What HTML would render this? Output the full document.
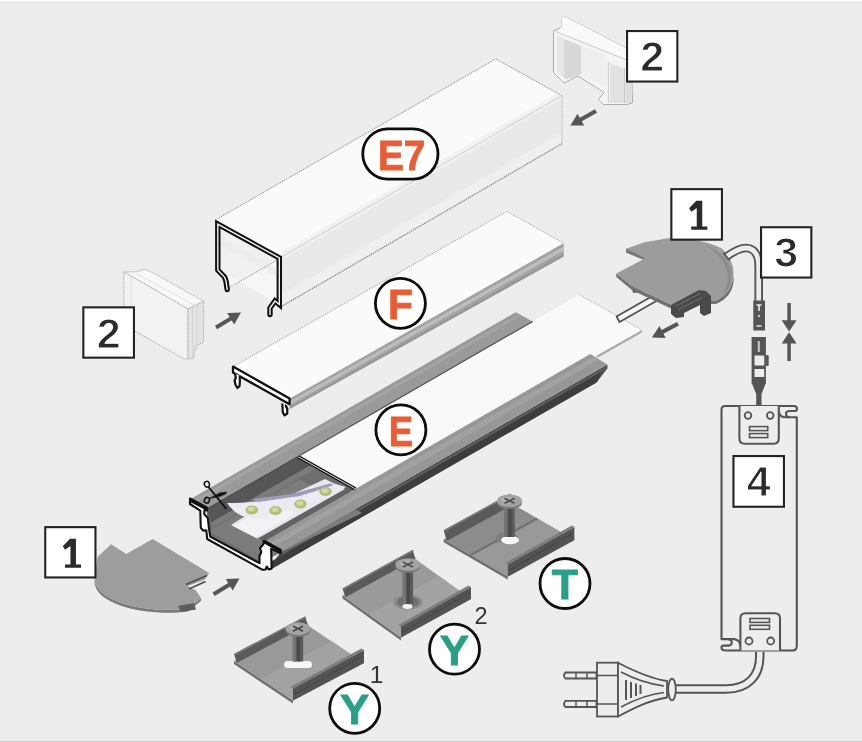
<!DOCTYPE html>
<html><head><meta charset="utf-8"><style>
html,body{margin:0;padding:0;background:#ededed;}
svg{display:block;will-change:transform;}
text{font-family:"Liberation Sans",sans-serif;}
</style></head><body>
<svg width="862" height="742" viewBox="0 0 862 742">
<rect width="862" height="742" fill="#ededed"/>
<rect x="0" y="0" width="862" height="1" fill="#fdfdfd"/>
<rect x="0" y="1" width="862" height="1" fill="#f2f2f2"/>
<rect x="0" y="2" width="862" height="1" fill="#e9e9e9"/>
<rect x="0" y="740" width="862" height="1" fill="#f1f1f1"/>
<rect x="0" y="741" width="862" height="1" fill="#c8c8c8"/>
<polygon points="215.2,220.1 495.7,58.9 562.0,95.7 281.5,256.9" fill="#fafafa"/>
<polygon points="281.5,256.9 562.0,95.7 562.0,143.7 281.5,306.4" fill="#e9e9e9"/>
<polygon points="281.5,251.9 562.0,90.7 562.0,98.7 281.5,259.9" fill="#f1f1f1"/>
<polygon points="281.5,294.4 562.0,132.2 562.0,143.2 281.5,305.9" fill="#efefef"/>
<line x1="215.2" y1="220.1" x2="495.7" y2="58.9" stroke="#8c8c8c" stroke-width="1.0" stroke-dasharray="1.3 0.9"/>
<line x1="495.7" y1="58.9" x2="562.0" y2="95.7" stroke="#8c8c8c" stroke-width="1.0" stroke-dasharray="1.3 0.9"/>
<line x1="562.0" y1="95.7" x2="562.0" y2="143.7" stroke="#b0b0b0" stroke-width="1.0" stroke-dasharray="1.3 0.9"/>
<line x1="281.5" y1="306.4" x2="562.0" y2="143.7" stroke="#7e7e7e" stroke-width="1.2" stroke-dasharray="1.3 0.9"/>
<line x1="281.5" y1="256.9" x2="562.0" y2="95.69999999999999" stroke="#d6d6d6" stroke-width="1.2"/>
<polygon points="218.0,223.0 279.0,257.0 279.0,303.0 271.0,300.0 228.0,276.0 218.0,268.0" fill="#f0f0f0"/>
<polygon points="218,268 228,276 227,289 276.5,260.5 276.5,300 271,300" fill="#f6f6f6"/>
<polygon points="218,236 276,268 276,276 218,244" fill="#e9e9e9" opacity="0.6"/>
<line x1="227.5" y1="288.5" x2="277.0" y2="260.2" stroke="#9a9a9a" stroke-width="1.0" stroke-dasharray="1.3 0.9"/>
<path d="M227.2,289.5 L226,281 L224.5,277 L217.8,270 L217.8,224.1 L279.3,257.9 L279.3,304.5 L275,301 L270,308 L270,314.5" fill="none" stroke="#111" stroke-width="5.4" stroke-linejoin="miter" stroke-linecap="round"/>
<path d="M227.2,289.5 L226,281 L224.5,277 L217.8,270 L217.8,224.1 L279.3,257.9 L279.3,304.5 L275,301 L270,308 L270,314.5" fill="none" stroke="#fff" stroke-width="1.3" stroke-linejoin="miter" stroke-linecap="round"/>
<polygon points="289.6,398.4 563.6,243.1 563.6,256.6 289.6,408.9" fill="#a3a3a3"/>
<polygon points="289.6,401.4 563.6,246.6 563.6,250.6 289.6,404.9" fill="#bdbdbb"/>
<polygon points="289.6,406.9 563.6,254.1 563.6,256.6 289.6,408.9" fill="#969696"/>
<polygon points="233.0,366.6 507.0,211.3 563.6,243.1 289.6,398.4" fill="#fafafa"/>
<line x1="233.0" y1="366.6" x2="507.0" y2="211.3" stroke="#a8a8a8" stroke-width="1.0" stroke-dasharray="1.3 0.9"/>
<line x1="507.0" y1="211.3" x2="563.6" y2="243.1" stroke="#a8a8a8" stroke-width="1.0" stroke-dasharray="1.3 0.9"/>
<path d="M233.0,366.6 L289.6,398.4 L289.6,404.2 L233.0,372.40000000000003 Z" fill="#fff" stroke="#111" stroke-width="2.3" stroke-linejoin="round"/>
<path d="M235,373.6 L235.8,377.5 L234.6,380.5 L235.4,384.5 L237.4,388 L239.5,386.2 L239.9,381.5 L239.7,375.8" fill="#fff" stroke="#111" stroke-width="2.2" stroke-linejoin="round"/>
<path d="M282.4,403.4 L282.4,406 L282.8,412.5 L284.6,415.3 L287.2,413.5 L287.3,409 L285.8,405.5 L286.2,405" fill="#fff" stroke="#111" stroke-width="2.2" stroke-linejoin="round"/>
<polygon points="281.3,551.7 607.3,364.4 607.3,368.4 596.5,382.5 270.5,569.5 270.0,566.0" fill="#4b4b4b"/>
<polygon points="281.3,553.2 607.3,365.9 607.3,368.4 281.3,555.7" fill="#5e5e5e"/>
<polygon points="272.0,561.0 600.0,372.5 600.0,376.0 596.5,382.5 270.5,569.5" fill="#3d3d3d"/>
<polygon points="206.7,508.7 532.7,321.4 590.3,354.1 264.3,541.4 262.0,567.5 208.5,538.4" fill="#6e6e6e"/>
<polygon points="206.7,508.7 532.7,321.4 536.7,335.4 210.7,522.7" fill="#565656"/>
<polygon points="210.7,522.7 536.7,335.4 538.7,340.4 212.7,527.7" fill="#7b7b7b"/>
<polygon points="209.0,531.0 300.0,479.0 362.0,513.0 262.0,562.0" fill="#7c7c7c"/>
<polygon points="264.3,541.4 590.3,354.1 584.3,350.1 258.3,537.4" fill="#636363"/>
<polygon points="231,525 257,538.5 263,535.5 345,489 325,479 242,518" fill="#e9e8ee"/>
<polygon points="233,526 255,537 296,513 274,503" fill="#f2f2f4"/>
<path d="M227,503 C245,503 268,501 292,496 L332,483 L346,487 C330,496 300,508 262,518 C248,520 236,516 227,503 Z" fill="#ecebf1"/>
<path d="M252,499 L292,494 L330,483.5 L334,485 L300,496 L258,502 Z" fill="#9f9bb8"/>
<ellipse cx="251.8" cy="510" rx="6.3" ry="4.5" fill="#b1bf78"/>
<ellipse cx="251.3" cy="509.2" rx="3.6" ry="2.4" fill="#d0d9a2"/>
<ellipse cx="275.5" cy="510.5" rx="6.3" ry="4.5" fill="#b1bf78"/>
<ellipse cx="275.0" cy="509.7" rx="3.6" ry="2.4" fill="#d0d9a2"/>
<ellipse cx="300.4" cy="504" rx="6.3" ry="4.5" fill="#b1bf78"/>
<ellipse cx="299.9" cy="503.2" rx="3.6" ry="2.4" fill="#d0d9a2"/>
<ellipse cx="325.5" cy="491.5" rx="6.3" ry="4.5" fill="#b1bf78"/>
<ellipse cx="325.0" cy="490.7" rx="3.6" ry="2.4" fill="#d0d9a2"/>
<polygon points="297.9,456.4 579.2,294.6 642.0,330.0 597.0,355.5 355.5,489.0" fill="#f9f9f9"/>
<polygon points="642,330 642,332.5 598,357.5 596,356" fill="#a9a9a9"/>
<line x1="579.2" y1="294.6" x2="642.0" y2="330.0" stroke="#b4b4b4" stroke-width="1.0" stroke-dasharray="1.3 0.9"/>
<path d="M297.9,456.6 L355.5,489" stroke="#111" stroke-width="3.4"/>
<path d="M297.9,456.6 L355.5,489" stroke="#fff" stroke-width="0.9"/>
<polygon points="189.7,499.6 515.7,312.3 532.7,321.4 206.7,508.7" fill="#9a9a9a"/>
<polygon points="192.7,501.1 518.7,313.8 521.7,315.5 195.7,502.8" fill="#a4a4a4"/>
<line x1="207.2" y1="508.7" x2="532.7" y2="321.4" stroke="#4a4a4a" stroke-width="1.1"/>
<polygon points="264.3,541.4 590.3,354.1 607.3,364.4 281.3,551.7" fill="#979797"/>
<polygon points="268.3,543.9 594.3,356.6 599.3,359.6 273.3,546.9" fill="#a2a2a2"/>
<polygon points="190.0,498.5 207.0,507.6 207.2,510.5 204.5,510.0 204.2,514.0 207.8,518.0 208.8,527.0 210.2,536.6 259.5,563.2 259.5,556.0 261.3,552.0 260.0,548.0 262.8,545.0 263.8,543.0 263.5,541.0 281.0,550.8 280.6,553.4 271.2,548.6 271.6,568.5 268.8,569.5 266.8,566.5 265.6,569.5 262.6,569.8 207.2,539.0 206.3,530.2 203.2,530.6 200.8,527.8 200.6,522.5 200.3,510.6 190.0,504.0" fill="#fff" stroke="#111" stroke-width="2.1" stroke-linejoin="round"/>
<path d="M191,500.3 L206.2,508.4 M265,542 L280,550.4" stroke="#111" stroke-width="3.6" stroke-linecap="round"/>
<g stroke="#111" fill="none"><ellipse cx="206.9" cy="484.2" rx="2.5" ry="2.9" stroke-width="1.5" transform="rotate(-25 206.9 484.2)"/><ellipse cx="206.9" cy="500.3" rx="2.5" ry="2.9" stroke-width="1.5" transform="rotate(25 206.9 500.3)"/><path d="M208.8,487.4 L226,508.4" stroke-width="1.7" stroke-linecap="round"/></g>
<path d="M209.3,498.5 L215,495.6 L219.5,493 L226.8,492 L225.5,494 L219.5,496.6 L213,497.8 Z" fill="#111" stroke="#111" stroke-width="0.6" stroke-linejoin="round"/>
<polygon points="563.9,16.1 628.0,49.0 628.0,83.0 632.0,83.0 632.5,103.0 627.0,104.5 603.0,104.5 598.5,99.5 604.0,92.5 578.0,76.0 564.0,83.0 553.4,72.5 553.4,31.0 561.5,27.5 561.5,18.5" fill="#f4f4f4" stroke="#adadad" stroke-width="1" stroke-linejoin="round"/>
<polygon points="563.9,16.1 628.0,49.0 628.0,60.0 556.0,31.5 561.5,27.5 561.5,18.5" fill="#f9f9f9"/>
<path d="M556,31.5 L628,60.5" stroke="#c9c9c9" stroke-width="1"/>
<polygon points="557,36 581,46 581,74 566,79.5 557,71" fill="#d8d8d8"/>
<polygon points="557,36 564,39 564,77 557,71" fill="#e6e6e6"/>
<polygon points="581,46 606,56 606,87 581,75" fill="#efefef"/>
<path d="M608.3,62 L608.3,103 M624.5,68 L624.5,103" stroke="#c6c6c6" stroke-width="1"/>
<polygon points="610,63 624,69 624,103 610,103" fill="#e2e2e2"/>
<polygon points="625.5,83 631.5,83 631.5,103 625.5,103" fill="#dcdcdc"/>
<polygon points="123.9,271.9 136.8,271.9 145.2,269.2 152.5,272.6 203.6,301.2 188.0,309.0" fill="#f8f8f8" stroke="#a9a9a9" stroke-width="0.9" stroke-dasharray="1.4 0.7" stroke-linejoin="round"/>
<polygon points="123.9,271.9 188.0,309.0 188.0,358.8 183.8,358.8 134.7,331.0 123.9,330.4" fill="#f2f2f2" stroke="#a9a9a9" stroke-width="0.9" stroke-dasharray="1.4 0.7"/>
<polygon points="188.0,309.0 203.6,301.2 203.6,341.9 195.3,346.5 193.5,358.8 188.0,358.8" fill="#e4e4e4" stroke="#a9a9a9" stroke-width="0.9" stroke-dasharray="1.4 0.7"/>
<path d="M192.5,307 L192.5,356 M197,304.5 L197,350" stroke="#cfcfcf" stroke-width="0.8"/>
<path d="M131,276.5 L131,332 M137,274 L196,306" stroke="#dedede" stroke-width="0.9"/>
<path d="M616.5,316.5 L656,294 L659,299.5 L619.5,322 Z" fill="#f5f5f5" stroke="#505050" stroke-width="1.7" stroke-linejoin="round"/>
<polygon points="631,283 640,281 641,292 633,293" fill="#5a5a5a"/>
<path d="M616.3,273.4 L632.6,286.7 L671,304.5 L700,300 L716,300.5 C726,296 732.5,287 733.4,276 L733.6,281 C732.8,292 726,300 716,304 L700,303.8 L671,308.5 L632.6,290.5 L616.3,277 Z" fill="#707070"/>
<path d="M626,248.8 L644.5,242.2 L671,237.8 C690,237.5 708,242 721.5,248.2 C730,256 734.5,266 733.4,276 C732.5,287 726,296 716,300.5 L700,300 L671,304.5 L632.6,286.7 L616.3,273.4 L643,259.4 L626,252.5 Z" fill="#9c9c9c"/>
<path d="M705,244.5 C716,249 727,258 731,269 C733,279 730,289 722,296 C727,287 729,279 727,270 C723,259 715,251 705,244.5 Z" fill="#8c8c8c"/>
<path d="M626,248.8 L626,252.5 L643,259.4 L644.5,258 Z" fill="#777"/>
<polygon points="671,305 699,290 706,291 711,296 711,313 704,316 700,313 700,305 684,313 684,317 676,318 671,314" fill="#4a4a4a"/>
<path d="M676,306 L700,293.5 M678,310 L702,297.5" stroke="#6a6a6a" stroke-width="1.3"/>
<path d="M726.3,256.7 C733,252 740,248 746,248 C754,248 758.7,255 758.7,266 L758.7,301" fill="none" stroke="#555" stroke-width="8.6"/>
<path d="M726.3,256.7 C733,252 740,248 746,248 C754,248 758.7,255 758.7,266 L758.7,301" fill="none" stroke="#ececec" stroke-width="4.8"/>
<path d="M723.8,253.4 L729,259.8" stroke="#555" stroke-width="1.9" stroke-linecap="round"/>
<rect x="753.3" y="300.5" width="11.7" height="30" fill="#555"/>
<path d="M756.5,305 L761.5,305 M759,305 L759,311 M759,315 L759,317 M756.5,326 L761.5,326" stroke="#eee" stroke-width="1.6"/>
<rect x="751.6" y="337" width="14.3" height="47" fill="#555"/>
<rect x="757.8" y="341" width="2" height="11" fill="#ccc"/>
<rect x="754.5" y="355.5" width="9.7" height="10" fill="#eee"/>
<rect x="754.5" y="369" width="9.7" height="8" fill="#eee"/>
<rect x="765.9" y="355" width="2.8" height="11" rx="1.2" fill="#555"/>
<polygon points="752,383.8 765.5,383.8 761.5,394 761.5,407 756.2,407 756.2,394" fill="#555"/>
<g fill="#555"><rect x="787.3" y="303" width="3.5" height="18"/><polygon points="781.7,320.2 796.6,320.2 789.1,331.5"/><polygon points="781.7,343.5 796.6,343.5 789.1,332.2"/><rect x="787.3" y="343" width="3.5" height="18"/></g>
<path d="M725,406 L794,406 Q797,406 797,408.7 Q797,411 794.5,411 L788.8,411 Q786,411.3 786,414 Q786,417.2 789.5,417.2 L796.8,417.2 L796.8,646 Q796.8,650.5 792.3,650.5 L725.5,650.5 Q721.5,650.5 721.5,647.5 Q721.5,645.6 723.5,645.6 L729,645.6 Q731.8,645 731.8,642.5 Q731.5,639.1 728,639.1 L721.5,639.1 L721.5,410 Q721.5,406 725,406 Z" fill="#ededed" stroke="#555" stroke-width="2.1" stroke-linejoin="round"/>
<path d="M789.5,417.2 L784,417.2 Q779,416.5 779,411 M728,639.1 L734.5,639.1 Q740,640 740.4,646" fill="none" stroke="#555" stroke-width="2.1"/>
<path d="M739.4,406 L739.4,438.5 Q739.4,443.7 744.6,443.7 L773.6,443.7 Q778.8,443.7 778.8,438.5 L778.8,406" fill="#ededed" stroke="#555" stroke-width="2.1"/>
<circle cx="748" cy="415.5" r="3.3" fill="none" stroke="#555" stroke-width="1.8"/><circle cx="770.2" cy="415.5" r="3.3" fill="none" stroke="#555" stroke-width="1.8"/>
<rect x="749.5" y="426.6" width="18.2" height="4" fill="none" stroke="#555" stroke-width="1.6"/><rect x="749.5" y="433.6" width="18.2" height="4" fill="none" stroke="#555" stroke-width="1.6"/>
<path d="M740.4,650.5 L740.4,618.5 Q740.4,613.3 745.6,613.3 L774.8,613.3 Q780,613.3 780,618.5 L780,650.5" fill="#ededed" stroke="#555" stroke-width="2.1"/>
<rect x="750" y="618.5" width="19.5" height="3.9" fill="none" stroke="#555" stroke-width="1.6"/><rect x="750" y="625.3" width="19.5" height="4" fill="none" stroke="#555" stroke-width="1.6"/>
<circle cx="749" cy="641" r="3.5" fill="none" stroke="#555" stroke-width="1.8"/><circle cx="770.7" cy="641" r="3.5" fill="none" stroke="#555" stroke-width="1.8"/>
<path d="M759.8,652 L759.8,656 C759.8,676 748,689 726,689 L672,689" fill="none" stroke="#555" stroke-width="9.5"/>
<path d="M759.8,652 L759.8,656 C759.8,676 748,689 726,689 L672,689" fill="none" stroke="#ededed" stroke-width="5.5"/>
<g fill="#ededed" stroke="#555" stroke-width="1.8">
<path d="M565.5,672.5 L596.5,672.5 L596.5,678.5 L565.5,678.5 Q562.5,675.5 565.5,672.5 Z"/>
<path d="M565.5,700.8 L596.5,700.8 L596.5,707 L565.5,707 Q562.5,704 565.5,700.8 Z"/>
<rect x="597" y="662.7" width="21" height="53.8"/>
<path d="M618,662.7 C632,670 648,678 667,681 L667,697.5 C648,700.5 632,709 618,716.5 Z"/>
<ellipse cx="672" cy="689.5" rx="3.8" ry="10.8"/>
</g>
<path d="M597,675.5 L618,675.5 M597,704 L618,704" stroke="#555" stroke-width="1.5"/>
<path d="M621,672 C636,680 650,684 664,686 M621,707 C636,699 650,694 664,692.5" fill="none" stroke="#555" stroke-width="1.5"/>
<path d="M626,680 L626,700 M631,682 L631,698 M636,683.5 L636,696 M640.5,685 L640.5,694" stroke="#555" stroke-width="2"/>
<path d="M576,672.5 L576,678.5 M587,672.5 L587,678.5 M576,700.8 L576,707 M587,700.8 L587,707" stroke="#555" stroke-width="1.5"/>
<path d="M94.5,579.8 C96,590 105,597 120.2,602.4 C140,610 170,611 188,608.4 L201,597.9 L201,601 L188,611.5 C170,614 140,613 120.2,605.5 C105,600 96,593 94.5,583 Z" fill="#7c7c7c"/>
<path d="M111.1,544.3 L126.2,554.1 L152.6,539 L209.2,573 L204.6,579.8 L188,586 L196,590.5 L201,597.9 L188,608.4 C170,611 140,610 120.2,602.4 C105,597 96,590 94.5,579.8 L97.5,557.1 Z" fill="#9d9d9d"/>
<path d="M186,584.5 L207,575.5 M189,589 L205.5,581.5" stroke="#4e4e4e" stroke-width="1.8"/>
<polygon points="178,606 194,603 196,609.5 181,612" fill="#5e5e5e"/>
<line x1="596" y1="111" x2="579.9713129836822" y2="120.0787485053362" stroke="#565656" stroke-width="4.0"/><polygon points="570.4,125.5 577.5,113.7 584.2,125.5" fill="#565656"/>
<line x1="216" y1="327.5" x2="231.567577817162" y2="318.1594533097028" stroke="#565656" stroke-width="4.0"/><polygon points="241.0,312.5 234.2,324.5 227.2,312.9" fill="#565656"/>
<line x1="678" y1="323.7" x2="661.6243845633958" y2="332.3583713802735" stroke="#565656" stroke-width="4.0"/><polygon points="651.9,337.5 659.4,325.9 665.7,337.9" fill="#565656"/>
<line x1="213.6" y1="594.2" x2="230.07722183942275" y2="584.275495726062" stroke="#565656" stroke-width="4.0"/><polygon points="239.5,578.6 232.7,590.6 225.7,579.0" fill="#565656"/>
<polygon points="443.7,539.2 507.8,576.5 507.8,579.5 443.7,542.2" fill="#6e6e6e"/><polygon points="443.7,539.2 507.8,576.5 574.4,540.0 510.3,502.7" fill="#8c8c8c"/><polygon points="472.5,556.0 507.8,576.5 574.4,540.0 539.1,519.5" fill="#999999"/><line x1="470.6" y1="554.9" x2="537.2" y2="518.4" stroke="#6a6a6a" stroke-width="1.6"/><polygon points="443.7,530.2 510.3,493.7 513.3,504.4 446.7,540.9" fill="#5a5a5a"/><polygon points="443.7,530.2 510.3,493.7 511.8,494.7 445.2,531.2" fill="#7a7a7a"/><polygon points="507.8,576.5 574.4,540.0 574.4,527.0 507.8,564.5" fill="#535353"/><polygon points="507.8,564.5 574.4,527.0 571.9,525.5 505.3,563.0" fill="#7c7c7c"/><line x1="509.8" y1="570.0" x2="572.4" y2="533.5" stroke="#3f3f3f" stroke-width="1.2" stroke-dasharray="1.5 1"/><ellipse cx="507" cy="538" rx="11" ry="5.5" fill="#7e7e7e"/><ellipse cx="510" cy="540" rx="9" ry="4.3" fill="#f6f6f6"/><rect x="504.3" y="502.8" width="10.4" height="34.19999999999999" fill="#5a5a5a"/><rect x="504.3" y="502.8" width="3" height="34.19999999999999" fill="#777"/><rect x="508.5" y="502.8" width="3" height="34.19999999999999" fill="#4a4a4a"/><ellipse cx="509.5" cy="502.8" rx="12.5" ry="6.3" fill="#7a7a7a"/><ellipse cx="509.5" cy="500.8" rx="12.5" ry="6.3" fill="#a3a3a3"/><ellipse cx="507.5" cy="499.8" rx="6" ry="3" fill="#b3b3b3"/><path d="M504.5,498.3 L514.5,503.3 M514.5,498.3 L504.5,503.3" stroke="#4d4d4d" stroke-width="1.8"/>
<polygon points="342.5,595.5 401.0,637.5 401.0,640.5 342.5,598.5" fill="#6e6e6e"/><polygon points="342.5,595.5 401.0,637.5 471.0,599.0 412.5,557.0" fill="#9a9a9a"/><polygon points="368.8,614.4 401.0,637.5 471.0,599.0 438.8,575.9" fill="#a3a3a3"/><polygon points="342.5,588.5 412.5,550.0 415.5,558.7 345.5,597.2" fill="#5a5a5a"/><polygon points="342.5,588.5 412.5,550.0 414.0,551.0 344.0,589.5" fill="#7a7a7a"/><polygon points="401.0,637.5 471.0,599.0 471.0,587.0 401.0,626.5" fill="#535353"/><polygon points="401.0,626.5 471.0,587.0 468.5,585.5 398.5,625.0" fill="#7c7c7c"/><line x1="403.0" y1="631.5" x2="469.0" y2="593.0" stroke="#3f3f3f" stroke-width="1.2" stroke-dasharray="1.5 1"/><ellipse cx="407.9" cy="602" rx="14.5" ry="7.5" fill="#8a8a8a"/><ellipse cx="407.9" cy="602" rx="11" ry="5.5" fill="#707070"/><ellipse cx="407.4" cy="606.5" rx="5" ry="2.4" fill="#f4f4f4"/><rect x="402.7" y="566.5" width="10.4" height="37.5" fill="#5a5a5a"/><rect x="402.7" y="566.5" width="3" height="37.5" fill="#777"/><rect x="406.9" y="566.5" width="3" height="37.5" fill="#4a4a4a"/><ellipse cx="407.9" cy="566.5" rx="12.5" ry="6.3" fill="#7a7a7a"/><ellipse cx="407.9" cy="564.5" rx="12.5" ry="6.3" fill="#a3a3a3"/><ellipse cx="405.9" cy="563.5" rx="6" ry="3" fill="#b3b3b3"/><path d="M402.9,562.0 L412.9,567.0 M412.9,562.0 L402.9,567.0" stroke="#4d4d4d" stroke-width="1.8"/>
<polygon points="234.0,661.0 293.0,700.6 293.0,703.6 234.0,664.0" fill="#6e6e6e"/><polygon points="234.0,661.0 293.0,700.6 364.0,663.0 305.0,623.4" fill="#999999"/><polygon points="260.6,678.8 293.0,700.6 364.0,663.0 331.6,641.2" fill="#a2a2a2"/><polygon points="234.0,654.0 305.0,616.4 308.0,625.1 237.0,662.7" fill="#5a5a5a"/><polygon points="234.0,654.0 305.0,616.4 306.5,617.4 235.5,655.0" fill="#7a7a7a"/><polygon points="293.0,700.6 364.0,663.0 364.0,650.0 293.0,688.6" fill="#535353"/><polygon points="293.0,688.6 364.0,650.0 361.5,648.5 290.5,687.1" fill="#7c7c7c"/><line x1="295.0" y1="694.1" x2="362.0" y2="656.5" stroke="#3f3f3f" stroke-width="1.2" stroke-dasharray="1.5 1"/><rect x="284" y="661.0" width="28" height="7" rx="3.5" fill="#f6f6f6"/><rect x="292.8" y="630.6" width="10.4" height="30.899999999999977" fill="#5a5a5a"/><rect x="292.8" y="630.6" width="3" height="30.899999999999977" fill="#777"/><rect x="297" y="630.6" width="3" height="30.899999999999977" fill="#4a4a4a"/><ellipse cx="298" cy="630.6" rx="12.5" ry="6.3" fill="#7a7a7a"/><ellipse cx="298" cy="628.6" rx="12.5" ry="6.3" fill="#a3a3a3"/><ellipse cx="296" cy="627.6" rx="6" ry="3" fill="#b3b3b3"/><path d="M293,626.1 L303,631.1 M303,626.1 L293,631.1" stroke="#4d4d4d" stroke-width="1.8"/>
<rect x="627.05" y="31.05" width="50.30" height="50.50" fill="#fff" stroke="#232323" stroke-width="2.1"/><text transform="translate(652.20,71.30) scale(1.0,1)" text-anchor="middle" font-size="43" font-weight="bold" fill="#2b2b2b" stroke="#fff" stroke-width="1.1">2</text>
<rect x="83.35" y="307.35" width="50.60" height="50.30" fill="#fff" stroke="#232323" stroke-width="2.1"/><text transform="translate(108.65,347.50) scale(1.0,1)" text-anchor="middle" font-size="43" font-weight="bold" fill="#2b2b2b" stroke="#fff" stroke-width="1.1">2</text>
<rect x="671.35" y="189.15" width="50.60" height="50.50" fill="#fff" stroke="#232323" stroke-width="2.1"/><path transform="translate(696.65,188.10)" d="M-0.3,12.7 L5.6,12.7 L5.6,38.4 L10.7,38.4 L10.7,41.6 L-5.4,41.6 L-5.4,38.4 L0.1,38.4 L0.1,19.8 L-5.2,23.6 L-7.6,20.2 Z" fill="#2b2b2b"/>
<rect x="761.05" y="227.25" width="50.30" height="50.30" fill="#fff" stroke="#232323" stroke-width="2.1"/><text transform="translate(786.20,267.40) scale(1.0,1)" text-anchor="middle" font-size="43" font-weight="bold" fill="#2b2b2b" stroke="#fff" stroke-width="1.1">3</text>
<rect x="733.45" y="456.05" width="50.50" height="50.70" fill="#fff" stroke="#232323" stroke-width="2.1"/><text transform="translate(758.70,496.40) scale(1.0,1)" text-anchor="middle" font-size="43" font-weight="bold" fill="#2b2b2b" stroke="#fff" stroke-width="1.1">4</text>
<rect x="45.25" y="527.15" width="50.20" height="50.30" fill="#fff" stroke="#232323" stroke-width="2.1"/><path transform="translate(70.35,526.10)" d="M-0.3,12.7 L5.6,12.7 L5.6,38.4 L10.7,38.4 L10.7,41.6 L-5.4,41.6 L-5.4,38.4 L0.1,38.4 L0.1,19.8 L-5.2,23.6 L-7.6,20.2 Z" fill="#2b2b2b"/>
<rect x="362.8" y="128.8" width="75.2" height="50.3" rx="25" fill="#fff" stroke="#0d0d0d" stroke-width="2.8"/>
<text transform="translate(401.6,169.8) scale(0.9,1)" text-anchor="middle" font-size="43" font-weight="bold" fill="#e85d35" stroke="#e85d35" stroke-width="0.8">E7</text>
<circle cx="400.4" cy="303.3" r="25.0" fill="#fff" stroke="#0d0d0d" stroke-width="2.8"/><text transform="translate(400.40,318.90) scale(0.95,1)" text-anchor="middle" font-size="43" font-weight="bold" fill="#e85d35" stroke="#e85d35" stroke-width="0.8">F</text>
<circle cx="400.9" cy="429.9" r="25.0" fill="#fff" stroke="#0d0d0d" stroke-width="2.8"/><text transform="translate(400.90,445.50) scale(0.85,1)" text-anchor="middle" font-size="43" font-weight="bold" fill="#e85d35" stroke="#e85d35" stroke-width="0.8">E</text>
<circle cx="565" cy="583.5" r="25.0" fill="#fff" stroke="#0d0d0d" stroke-width="2.8"/><text transform="translate(565.00,599.10) scale(1.0,1)" text-anchor="middle" font-size="43" font-weight="bold" fill="#2a9f87" stroke="#2a9f87" stroke-width="0.8">T</text>
<circle cx="454.5" cy="649.2" r="25.0" fill="#fff" stroke="#0d0d0d" stroke-width="2.8"/><text transform="translate(454.50,664.80) scale(1.02,1)" text-anchor="middle" font-size="43" font-weight="bold" fill="#2a9f87" stroke="#2a9f87" stroke-width="0.8">Y</text>
<circle cx="354.7" cy="708.3" r="25.0" fill="#fff" stroke="#0d0d0d" stroke-width="2.8"/><text transform="translate(354.70,723.90) scale(1.02,1)" text-anchor="middle" font-size="43" font-weight="bold" fill="#2a9f87" stroke="#2a9f87" stroke-width="0.8">Y</text>
<text x="481" y="623.5" text-anchor="middle" font-size="23.5" fill="#333">2</text>
<text x="376.5" y="682.7" text-anchor="middle" font-size="24.5" fill="#333">1</text>
</svg>
</body></html>
